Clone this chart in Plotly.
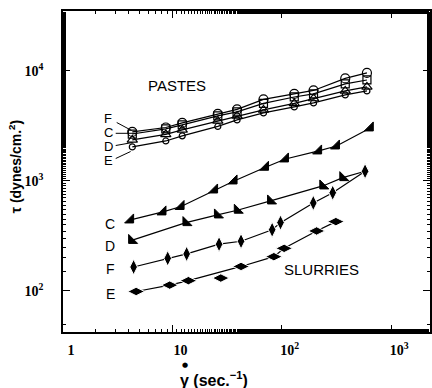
import plotly.graph_objects as go

# ---------------- data ----------------
paste_x = [4.3, 8.7, 12.3, 26, 39, 68, 130, 195, 380, 600]
paste_F = [2790, 3060, 3370, 4070, 4470, 5510, 6180, 6650, 8560, 9590]
paste_C = [2670, 2970, 3230, 3900, 4240, 5070, 5800, 6180, 7620, 8280]
paste_D = [2360, 2650, 2910, 3510, 3900, 4420, 5070, 5620, 6580, 7160]
paste_E = [2040, 2310, 2570, 3130, 3590, 4150, 4710, 5120, 6050, 6580]

slurry_C_x = [4.15, 8.2, 12.0, 24.3, 36.6, 71, 108, 217, 316, 644]
slurry_C_y = [442, 523, 586, 828, 1000, 1332, 1585, 1874, 2080, 3034]
slurry_D_x = [4.24, 13.3, 25.8, 39.2, 78.9, 237, 361, 577]
slurry_D_y = [288, 418, 491, 542, 658, 901, 1072, 1225]
slurry_F_x = [4.42, 9.06, 13.5, 26.7, 42.4, 81.6, 97.3, 194, 292, 577]
slurry_F_y = [165, 198, 217, 266, 283, 360, 418, 631, 781, 1225]
slurry_E_x = [4.66, 9.45, 14.0, 27.7, 42.4, 84.6, 105, 208, 312]
slurry_E_y = [98.9, 113, 124, 131, 167, 205, 244, 351, 427]
slurry_E_offline = [3]  # point the drawn curve does not pass through

x_tickvals = [1, 10, 100, 1000]
x_ticktext = ["1", "10", "10<sup>2</sup>", "10<sup>3</sup>"]
y_tickvals = [100, 1000, 10000]
y_ticktext = ["10<sup>2</sup>", "10<sup>3</sup>", "10<sup>4</sup>"]

# ---------------- figure ----------------
fig = go.Figure()
LW = 1.2

def paste(y, sym, size):
    fig.add_trace(go.Scatter(
        x=paste_x, y=y, mode="lines+markers",
        line=dict(color="black", width=LW),
        marker=dict(symbol=sym, size=size, color="black", line=dict(width=1.2)),
        showlegend=False))

paste(paste_F, "circle-open", 9)
paste(paste_C, "square-open", 8)
paste(paste_D, "triangle-up-open", 9)
paste(paste_E, "circle-open", 6)

def slurry(x, y, sym, size, sizes=None, edge=0, edgecolor="white"):
    fig.add_trace(go.Scatter(
        x=x, y=y, mode="lines+markers",
        line=dict(color="black", width=LW),
        marker=dict(symbol=sym, size=sizes if sizes else size, color="black",
                    opacity=1, line=dict(color=edgecolor, width=edge)),
        showlegend=False))

slurry(slurry_C_x, slurry_C_y, "triangle-se", 10, edge=1, edgecolor="black")
slurry(slurry_D_x, slurry_D_y, "triangle-sw", 10,
       sizes=[10] * (len(slurry_D_x) - 1) + [0], edge=1, edgecolor="black")
slurry(slurry_F_x, slurry_F_y, "diamond-tall", 11, edge=1)

# slurry E: curve drawn past the off-line point, then markers
ex = [v for i, v in enumerate(slurry_E_x) if i not in slurry_E_offline]
ey = [v for i, v in enumerate(slurry_E_y) if i not in slurry_E_offline]
fig.add_trace(go.Scatter(x=ex, y=ey, mode="lines",
                         line=dict(color="black", width=LW), showlegend=False))
fig.add_trace(go.Scatter(x=slurry_E_x, y=slurry_E_y, mode="markers",
                         marker=dict(symbol="diamond-wide", size=12, color="black",
                                     line=dict(color="white", width=1)),
                         showlegend=False))

# ---------------- layout ----------------
L, R, T, B = 63, 0, 11, 56
W, H = 432, 388
pw, ph = W - L - R, H - T - B

def px(xp, yp):
    return (xp - L) / pw, (H - B - yp) / ph

anns = []
def label(text, xp, yp, size=14):
    x, y = px(xp, yp)
    anns.append(dict(x=x, y=y, xref="paper", yref="paper", text=text, showarrow=False,
                     font=dict(family="Liberation Sans", size=size, color="black"),
                     xanchor="center", yanchor="middle"))

label("PASTES", 178, 85, 15)
label("SLURRIES", 323, 269, 15)
for t, yp in [("F", 118.5), ("C", 132), ("D", 146.5), ("E", 160.5)]:
    label(t, 108.5, yp, 13)
for t, yp in [("C", 223.5), ("D", 245.5), ("F", 269), ("E", 293.5)]:
    label(t, 110.5, yp, 14)

shapes = []
def pointer(hx, hy, tx, ty):
    x0, y0 = px(tx, ty)
    x1, y1 = px(hx, hy)
    shapes.append(dict(type="line", xref="paper", yref="paper",
                       x0=x0, y0=y0, x1=x1, y1=y1,
                       line=dict(color="black", width=1)))

pointer(132, 130.5, 117, 122.5)
pointer(136, 133.3, 116, 133.3)
pointer(133, 142.5, 116, 145.5)
pointer(131, 151.5, 116, 158.5)

# axis titles
x, y = px(15, 167)
anns.append(dict(x=x, y=y, xref="paper", yref="paper", text="τ (dynes/cm.<sup>2</sup>)",
                 textangle=-90, showarrow=False,
                 font=dict(family="Liberation Sans", size=14, color="black", weight="bold"),
                 xanchor="center", yanchor="middle"))
x, y = px(179, 379)
anns.append(dict(x=x, y=y, xref="paper", yref="paper", text="γ (sec.<sup>−1</sup>)",
                 showarrow=False,
                 font=dict(family="Liberation Sans", size=16, color="black", weight="bold"),
                 xanchor="left", yanchor="middle"))
x, y = px(186, 365)
anns.append(dict(x=x, y=y, xref="paper", yref="paper", text="●", showarrow=False,
                 font=dict(family="DejaVu Sans", size=7, color="black"),
                 xanchor="center", yanchor="middle"))

tickfont = dict(family="Liberation Serif", size=14, color="black", weight="bold")
common = dict(type="log", showgrid=False, zeroline=False, showline=True,
              linecolor="black", linewidth=1.5, mirror="ticks",
              ticks="inside", ticklen=7, tickwidth=1.2, tickcolor="black",
              minor=dict(ticks="inside", ticklen=3, tickwidth=1, tickcolor="black",
                         showgrid=False),
              tickfont=tickfont)

fig.update_layout(
    width=W, height=H,
    margin=dict(l=L, r=R, t=T, b=B, pad=0),
    paper_bgcolor="white", plot_bgcolor="white",
    xaxis=dict(range=[0, pw / 110], tickvals=x_tickvals, ticktext=x_ticktext,
               ticklabelshift=8, ticklabelstandoff=4, **common),
    yaxis=dict(range=[4.545 - ph / 110, 4.545], tickvals=y_tickvals, ticktext=y_ticktext,
               ticklabelstandoff=15, **common),
    annotations=anns,
    shapes=shapes,
)

fig.write_html("out.html")
